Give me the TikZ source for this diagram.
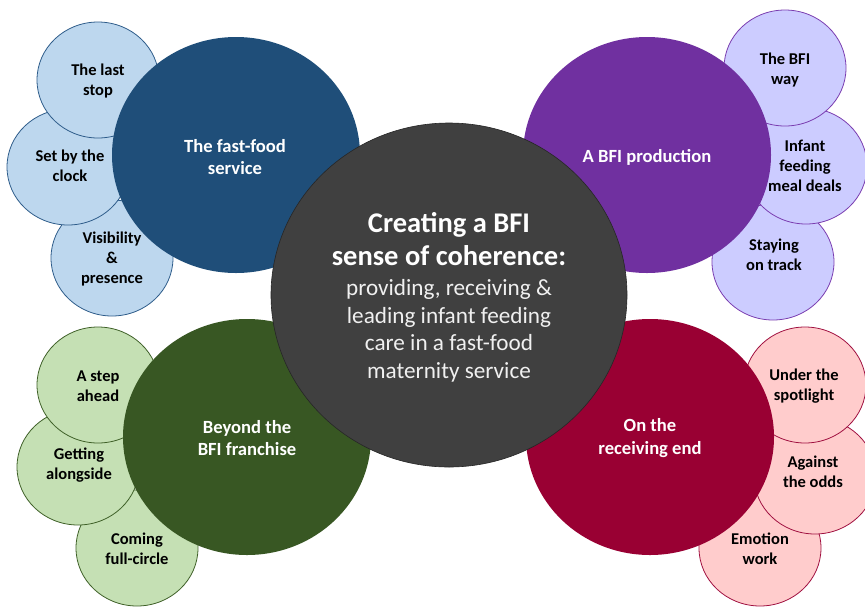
\documentclass[tikz,border=0pt]{standalone}
\usepackage{fontspec}
\setmainfont{Carlito}
\usetikzlibrary{shapes.geometric}
\definecolor{bluebig}{HTML}{1F4E79}
\definecolor{bluesm}{HTML}{BDD7EE}
\definecolor{blueln}{HTML}{2E5C8A}
\definecolor{purpbig}{HTML}{7030A0}
\definecolor{purpsm}{HTML}{CCCCFF}
\definecolor{purpln}{HTML}{7A3DB0}
\definecolor{greenbig}{HTML}{385723}
\definecolor{greensm}{HTML}{C5E0B4}
\definecolor{greenln}{HTML}{3F6028}
\definecolor{redbig}{HTML}{990033}
\definecolor{redsm}{HTML}{FFCCCC}
\definecolor{redln}{HTML}{A01040}
\definecolor{centre}{HTML}{404040}
\definecolor{centreln}{HTML}{262626}
\tikzset{
  smallc/.style={ellipse, inner sep=0pt, line width=0.8pt, minimum width=122pt, minimum height=116pt},
  bluesmall/.style={smallc, fill=bluesm, draw=blueln},
  purpsmall/.style={smallc, fill=purpsm, draw=purpln},
  greensmall/.style={smallc, fill=greensm, draw=greenln},
  redsmall/.style={smallc, fill=redsm, draw=redln},
  bigc/.style={ellipse, inner sep=0pt, minimum width=248pt, minimum height=236pt},
  smlabel/.style={font=\fontsize{16.5}{20}\selectfont\bfseries, align=center, text=black, inner sep=0pt},
  biglabel/.style={font=\fontsize{18.6}{22.5}\selectfont\bfseries, align=center, text=white, inner sep=0pt},
}
\begin{document}
\begin{tikzpicture}[x=1pt, y=-1pt]
\useasboundingbox (0,0) rectangle (865,606);
% ---- top-left group
\node[bluesmall] (vis) at (112,258) {};
\node[smlabel] (visL) at (112,259) {Visibility\\\&\\presence};
\node[bluesmall] (clock) at (68,167) {};
\node[smlabel] (clockL) at (70,166) {Set by the\\clock};
\node[bluesmall] (last) at (98,80) {};
\node[smlabel] (lastL) at (98,81) {The last\\stop};
% ---- top-right group
\node[purpsmall] (stay) at (773,262) {};
\node[smlabel] (stayL) at (774,255) {Staying\\on track};
\node[purpsmall] (meal) at (806,166) {};
\node[smlabel] (mealL) at (805,166) {Infant\\feeding\\meal deals};
\node[purpsmall] (way) at (785,68) {};
\node[smlabel] (wayL) at (785,70) {The BFI\\way};
% ---- bottom-left group
\node[greensmall] (full) at (137,548) {};
\node[smlabel] (fullL) at (137,549) {Coming\\full-circle};
\node[greensmall] (along) at (78,467) {};
\node[smlabel] (alongL) at (79,465) {Getting\\alongside};
\node[greensmall] (step) at (98,385) {};
\node[smlabel] (stepL) at (98,386) {A step\\ahead};
% ---- bottom-right group
\node[redsmall] (emo) at (760,548) {};
\node[smlabel] (emoL) at (760,549) {Emotion\\work};
\node[redsmall] (odds) at (815,476) {};
\node[smlabel] (oddsL) at (813,472) {Against\\the odds};
\node[redsmall] (spot) at (805,385) {};
\node[smlabel] (spotL) at (804,386) {Under the\\spotlight};
% ---- big circles
\node[bigc, fill=bluebig] (fast) at (236,155) {};
\node[biglabel] (fastL) at (235,157) {The fast-food\\service};
\node[bigc, fill=purpbig] (prod) at (647,155) {};
\node[biglabel] (prodL) at (647,157) {A BFI production};
\node[bigc, fill=greenbig] (beyond) at (247,437) {};
\node[biglabel] (beyondL) at (247,438) {Beyond the\\BFI franchise};
\node[bigc, fill=redbig] (recv) at (650,437) {};
\node[biglabel] (recvL) at (650,438) {On the\\receiving end};
% ---- central circle
\node[ellipse, inner sep=0pt, minimum width=356pt, minimum height=344pt, fill=centre, draw=centreln, line width=0.6pt] (core) at (449,295) {};
\node[font=\fontsize{28.5}{33.5}\selectfont\bfseries, text=white, align=center, inner sep=0pt] (title) at (449,239) {Creating a BFI\\sense of coherence:};
\node[font=\fontsize{23.2}{27.5}\selectfont, text=white!94!black, align=center, inner sep=0pt] (sub) at (449,331) {providing, receiving \&\\leading infant feeding\\care in a fast-food\\maternity service};
\end{tikzpicture}
\end{document}
